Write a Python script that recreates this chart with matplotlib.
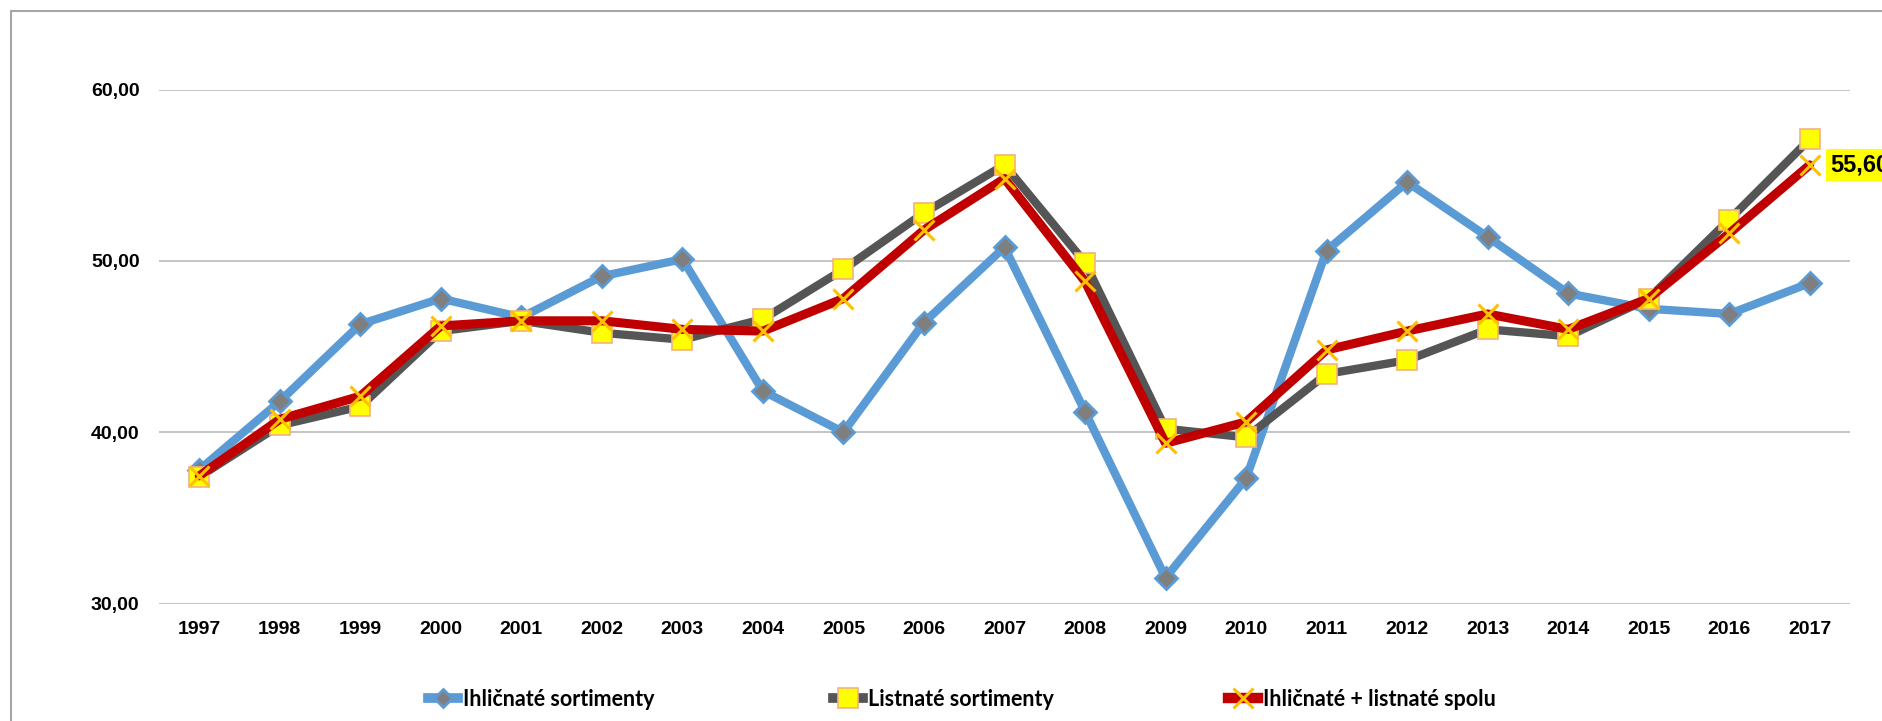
import matplotlib
matplotlib.use("Agg")
import matplotlib.pyplot as plt
from matplotlib.lines import Line2D
from matplotlib.patches import Rectangle
from matplotlib.ticker import FixedLocator, FuncFormatter

years = ["1997", "1998", "1999", "2000", "2001", "2002", "2003", "2004", "2005", "2006", "2007",
         "2008", "2009", "2010", "2011", "2012", "2013", "2014", "2015", "2016", "2017"]
ihlicnate = [37.8, 41.8, 46.3, 47.8, 46.7, 49.1, 50.1, 42.4, 40.0, 46.4, 50.8,
             41.2, 31.5, 37.3, 50.6, 54.6, 51.4, 48.1, 47.2, 46.9, 48.7]
listnate = [37.4, 40.4, 41.5, 45.9, 46.5, 45.8, 45.4, 46.6, 49.5, 52.8, 55.6,
            49.9, 40.2, 39.7, 43.4, 44.2, 46.0, 45.6, 47.8, 52.4, 57.1]
spolu = [37.45, 40.75, 42.1, 46.2, 46.5, 46.5, 46.0, 45.9, 47.8, 51.8, 54.8,
         48.8, 39.35, 40.6, 44.8, 45.9, 46.9, 46.0, 47.8, 51.6, 55.6]
series_names = ["Ihličnaté sortimenty", "Listnaté sortimenty", "Ihličnaté + listnaté spolu"]
y_ticks = [30, 40, 50, 60]

W, H = 1882, 721
fig = plt.figure(figsize=(W / 100, H / 100), dpi=100)
fig.patch.set_facecolor("white")

ax = fig.add_axes([159 / W, 1 - 603.5 / H, (1850 - 159) / W, (603.5 - 89.5) / H])
x = list(range(len(years)))

BLUE = "#5B9BD5"
GRAY = "#555555"
RED = "#C00000"

styles = [
    dict(color=BLUE, lw=6, marker="D", markersize=11.5, markerfacecolor="#7F7F7F",
         markeredgecolor=BLUE, markeredgewidth=2.0),
    dict(color=GRAY, lw=6, marker="s", markersize=14, markerfacecolor="#FFFF00",
         markeredgecolor="#F4B183", markeredgewidth=1.2),
    dict(color=RED, lw=6.5, marker="x", markersize=15, markeredgecolor="#FFC000",
         markeredgewidth=2.2),
]

for i, (vals, st) in enumerate(zip([ihlicnate, listnate, spolu], styles)):
    ax.plot(x, vals, zorder=3 + i, solid_joinstyle="round", solid_capstyle="round",
            clip_on=False, **st)

ax.set_xlim(-0.5, len(years) - 0.5)
ax.set_ylim(30, 60)
ax.yaxis.set_major_locator(FixedLocator(y_ticks))
ax.yaxis.set_major_formatter(FuncFormatter(lambda v, p: f"{v:.2f}".replace(".", ",")))
ax.set_xticks(x)
ax.set_xticklabels(years)
ax.grid(axis="y", color="#BFBFBF", lw=1.3)
ax.set_axisbelow(True)
for s in ax.spines.values():
    s.set_visible(False)
ax.tick_params(axis="both", length=0)
ax.tick_params(axis="y", pad=14)
ax.tick_params(axis="x", pad=12.5)
for lab in ax.get_xticklabels() + ax.get_yticklabels():
    lab.set_fontfamily("Liberation Sans")
    lab.set_fontweight("bold")
    lab.set_fontsize(14)
    lab.set_color("#000000")

# data label
ax.annotate("55,60", xy=(20, spolu[-1]), xytext=(15, 0), textcoords="offset points",
            ha="left", va="center", fontsize=17, fontweight="bold",
            fontfamily="Liberation Sans", color="black", annotation_clip=False,
            bbox=dict(boxstyle="square,pad=0.2", facecolor="#FFFF00", edgecolor="none"),
            zorder=10)

# outer chart-area border (extends beyond the image on right/bottom)
fig.add_artist(Rectangle((10.7 / W, -0.2), 2.0, (H - 10.7) / H + 0.2, transform=fig.transFigure,
                         fill=False, edgecolor="#A6A6A6", lw=1.5))

# legend entries
leg_fs = 15.5
fs_px = leg_fs * 100 / 72
leg_x = [428, 833, 1228]
for name, st, lx in zip(series_names, styles, leg_x):
    h = Line2D([0], [0], **{k: v for k, v in st.items()})
    h.set_linewidth(st["lw"] + 1)
    if st["marker"] == "D":
        h.set_markersize(9.5)
    leg = fig.legend(handles=[h], labels=[name], loc="center left",
                     bbox_to_anchor=(lx / W, 1 - 699 / H), frameon=False,
                     borderpad=0, borderaxespad=0, handlelength=30 / fs_px,
                     handletextpad=5 / fs_px, numpoints=1,
                     prop=dict(family="Lato", weight="bold", size=leg_fs))

fig.savefig("out.png", dpi=100, facecolor="white")
